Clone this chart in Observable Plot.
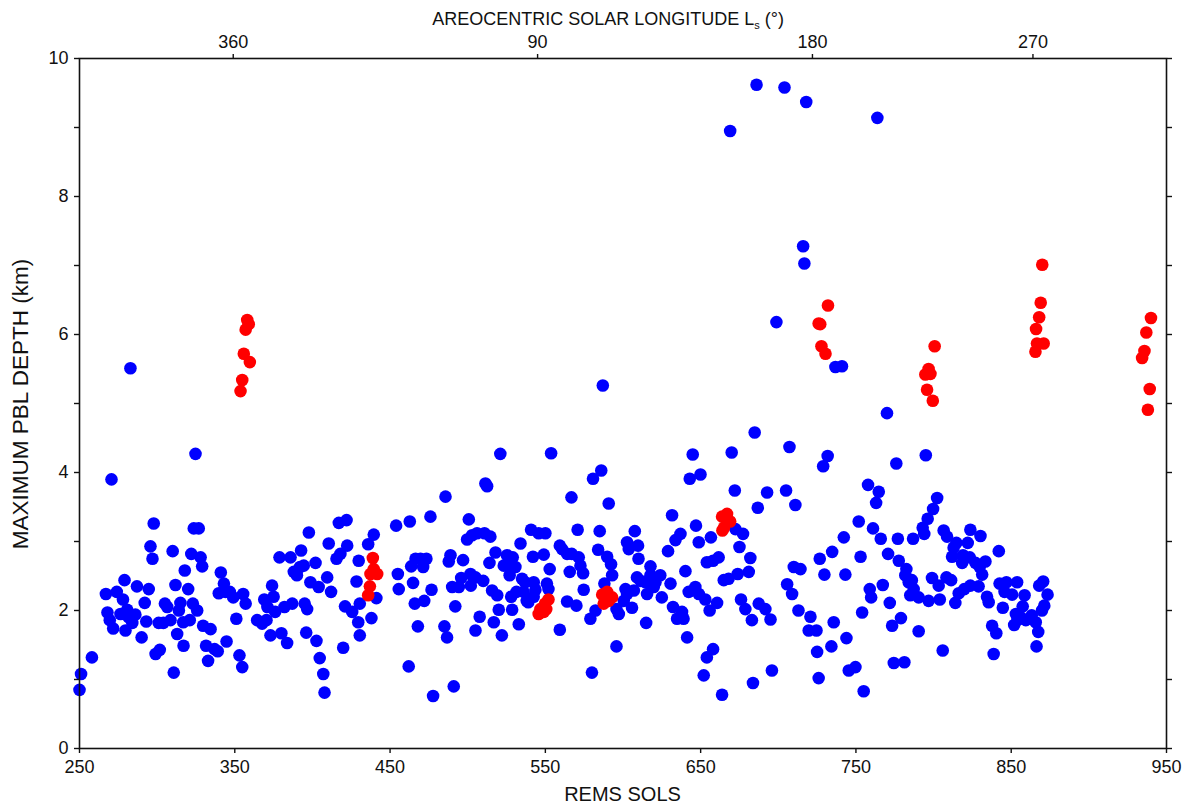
<!DOCTYPE html>
<html><head><meta charset="utf-8">
<script src="https://cdn.jsdelivr.net/npm/d3@7"></script>
<script src="https://cdn.jsdelivr.net/npm/@observablehq/plot@0.6"></script>
<style>html,body{margin:0;padding:0;background:#fff} #chart svg{display:block}</style>
</head><body><div id="chart"></div>
<script>
// ---- data ----
const blueSol = [250,251,258,270.6,267,268,269.5,271.7,274,278,279,276.4,280.7,281.7,279.6,284,286,287,290,292,293,294.6,297.8,295.7,297,299,301.7,301,304,305,306.5,308.6,310.7,310,311.8,312.9,314,315,316.8,317,317.8,320,321,322,323,323.6,326.8,324.7,325.8,328,329,329.6,331.5,332.8,334.4,337,339,341,343,339.7,344,344.7,346.8,349,351,353,354.8,355.4,357,364.4,367.6,369,370.4,371,373,374,375,376,378.8,380,382,383.7,385.9,387,388,390,392,392.7,394.4,395,396.6,396,397.7,398.7,402,402.6,404,404.7,407,407.8,409.5,410.5,412,415.5,417,418,419.8,421,422,422.4,425.6,428.4,429.5,430.5,430.5,429.8,
435.9,439.5,441.2,438,453.9,462.7,476,485.7,455,455.6,462,464.8,463.6,466.4,469.6,473.4,471.3,465.9,472,467.9,476.7,477.7,491,485,486.7,492,490,494.3,488.9,487.8,497,495.8,500.7,499.6,502.8,506,510.8,514.6,511.4,512.5,521,501.8,505,502,510,507.7,505,514,517.9,515.7,519,520,516.8,522,525.3,523.2,527.5,530.7,527,529,534,528,531.4,535,536,538,537,542.5,540.8,545.7,550,542,549,552.8,551,552,543.6,542.5,539,528.6,532.9,553.7,559.3,564,570,559.3,560.8,566.8,570.8,564,567,565.7,571.5,572.6,574.3,574.7,580,579,582.3,580.7,586,590.8,585,584,589.8,592.3,593,588,595.8,595.8,597.3,601.6,605.8,602.6,603.7,607.6,609.7,610,607,282.8,587,
600.5,602.6,614.9,617.7,609,611.3,614.5,617.7,620.9,624,615.5,619.8,625,630.6,629,631.6,633.8,637,632.2,634.8,638,639,641.3,640.2,642.3,646.6,648.8,653,655.8,660.6,647,648.8,644.9,643,649.9,656.6,654,658,661.6,658,654,652,663.8,664.9,668,672.4,677.3,675,672,670,682,681,673.9,676,678.8,683,687.4,691.7,695,683.7,695.9,686.8,692.8,705,707.2,711,705.7,708.9,710,714.3,713,720.7,719.6,724.6,725,726,735.7,734.2,743.9,745.4,749.7,755,726.7,729.7,734.7,742.2,743.2,728.9,731.8,751.8,753,754,758.9,759.8,757.8,764.7,763,761,766,767.3,771.8,770.7,773.3,779,774.4,781.2,776,777,777.6,782.5,781.8,786.8,784,786,785,787.2,790.4,
795,802.3,799.7,796.2,793,794,806.5,808.7,823.7,830.2,822,814.7,812.9,811.9,819,823.3,818.4,827,829.7,833.4,831.3,842,790.4,796.8,799,803.3,808.3,811.3,804,814,816.2,819.8,823.7,829,834.4,835.5,837.7,840.4,838.7,805.9,842.5,846.9,853.8,845.7,850.6,858.6,844.6,857.4,853,856.2,851.9,854,859.4,863.2,865.8,867.4,866.3,868,870.6,873.4,871.3,869.8,
686,704,718,669,763.8,716,716.8,698.8,736.8,741,770,684.8];
const blueDepth = [0.85,1.08,1.32,3.90,2.24,1.97,1.86,1.74,2.27,2.16,2.44,1.95,2.01,1.90,1.71,1.82,1.94,2.35,1.61,2.11,1.84,2.31,3.26,2.93,2.75,1.37,1.43,1.82,1.82,2.10,2.05,1.86,1.10,2.86,2.37,1.66,2.00,2.11,1.83,1.49,2.58,2.31,1.86,2.82,2.10,3.19,3.19,4.27,2.00,2.77,2.64,1.78,1.49,1.27,1.73,1.44,1.41,2.55,2.39,2.25,2.27,1.55,2.27,2.19,1.88,1.35,1.18,2.24,2.10,1.86,1.81,2.16,1.86,2.05,1.64,2.36,2.20,1.98,2.77,1.67,2.05,1.53,2.77,2.10,2.56,2.51,2.63,2.87,2.65,2.10,2.02,1.68,3.13,2.41,2.69,1.56,2.34,1.31,1.08,0.81,2.48,2.97,2.27,2.75,3.27,2.82,1.46,2.06,3.31,2.94,1.98,2.42,1.83,2.10,1.64,2.72,
2.96,3.10,2.18,1.89,3.23,3.29,3.36,3.65,2.53,2.31,1.19,2.40,2.64,2.75,2.75,2.75,2.63,2.10,2.14,1.77,2.30,0.76,0.90,1.77,1.61,2.06,2.34,2.34,2.80,2.71,2.73,2.47,3.32,3.03,3.09,3.12,3.12,3.07,3.84,3.80,4.27,2.53,2.48,2.36,2.43,1.91,1.71,2.69,2.84,2.29,2.22,2.01,1.83,1.64,2.80,2.65,2.65,2.63,2.51,2.77,2.97,2.20,2.27,2.46,2.27,2.14,2.41,2.41,3.17,3.12,3.12,2.78,2.81,2.60,2.39,2.31,2.30,2.20,2.12,2.01,1.80,4.28,1.72,2.13,2.07,2.94,2.89,3.64,3.17,2.82,2.82,2.56,2.77,2.65,2.54,2.30,1.10,1.88,2.00,3.91,4.03,3.55,3.15,2.88,2.78,2.67,2.51,2.39,1.48,2.02,1.95,2.31,2.04,2.99,2.89,3.15,2.94,2.75,2.29,5.51,5.26,
2.14,2.24,1.82,2.64,2.48,2.43,2.41,2.51,2.41,2.51,2.24,2.34,2.19,2.39,2.86,3.38,3.02,3.11,2.05,1.88,1.98,1.88,1.61,2.57,2.27,2.34,2.24,2.16,2.00,2.11,3.23,2.99,4.26,3.91,3.97,3.06,2.70,2.72,2.77,1.44,1.32,1.06,0.78,2.44,2.46,3.18,3.11,2.92,3.74,4.29,2.76,2.56,2.53,2.16,2.02,1.86,2.10,2.02,1.87,0.95,1.13,3.49,3.71,3.74,4.37,3.53,2.38,2.24,2.63,2.60,2.00,1.91,1.71,1.71,1.40,1.02,1.83,1.48,1.60,1.13,1.18,0.83,2.75,2.52,2.85,3.06,2.52,4.09,4.24,3.29,2.78,1.97,2.31,2.19,3.82,3.72,3.56,3.19,3.04,2.37,2.11,2.82,1.78,1.89,1.24,1.25,4.13,3.04,2.72,2.60,2.51,3.04,2.41,2.44,2.22,2.31,1.70,
4.25,3.63,3.47,3.33,3.20,3.11,3.16,3.07,3.17,3.08,2.98,2.98,2.91,2.78,2.80,2.77,2.69,2.69,2.63,2.71,2.52,2.86,2.19,2.14,2.47,2.36,2.48,2.44,2.16,2.11,2.25,2.31,2.36,2.35,2.20,2.12,1.78,1.67,1.37,1.42,2.39,2.41,2.41,2.27,2.23,2.22,2.04,2.06,1.95,1.90,1.79,1.86,1.86,1.93,1.83,1.69,1.48,2.36,2.42,2.23,2.07,2.00,
9.62,9.58,9.37,8.95,9.14,7.28,7.03,6.18,5.53,5.54,4.86,4.58];
const redSol = [358,359,357,355.8,359.7,354.8,353.7,
  438.9,439.5,441.7,437.4,437,435.9,
  552,549.8,546.8,549,545.7,550.6,
  586.6,589.8,593,587.6,590.8,
  663.8,667,669,665,664,
  732,726,727,727.8,730.4,
  800.7,796.8,794.7,798,795.8,799.5,
  870,869,868,866,866.6,870.9,865.6,
  940,937,935.8,934.3,939.2,938];
const redDepth = [6.21,6.15,6.07,5.72,5.60,5.34,5.18,
  2.76,2.60,2.53,2.53,2.35,2.22,
  2.16,2.10,2.02,1.98,1.95,2.02,
  2.23,2.27,2.19,2.10,2.14,
  3.36,3.40,3.29,3.20,3.16,
  6.42,6.16,6.15,5.83,5.72,
  5.83,5.50,5.42,5.43,5.20,5.04,
  7.01,6.46,6.25,6.08,5.87,5.87,5.75,
  6.24,6.03,5.76,5.66,5.21,4.91];
const solTicks = [250,350,450,550,650,750,850,950];
const depthTicks = [0,1,2,3,4,5,6,7,8,9,10];
const lsTickSols = [349,545,722,864];
const lsTickLabels = ["360","90","180","270"];
const xTitle = "REMS SOLS";
const yTitle = "MAXIMUM PBL DEPTH (km)";
const topTitle = ["AREOCENTRIC SOLAR LONGITUDE L", "s", " (°)"];

// ---- build tables ----
const blue = blueSol.map((s, i) => ({sol: s, depth: blueDepth[i]}));
const red = redSol.map((s, i) => ({sol: s, depth: redDepth[i]}));

const font = "'Liberation Sans', Arial, Helvetica, sans-serif";
const W = 1188, H = 806, mT = 58, mB = 58, mL = 79, mR = 22;

const chart = Plot.plot({
  width: W, height: H,
  marginTop: mT, marginBottom: mB, marginLeft: mL, marginRight: mR,
  style: {fontFamily: font, fontSize: "18px", color: "#111", background: "white"},
  x: {domain: [250, 950]},
  y: {domain: [0, 10]},
  marks: [
    Plot.dot(blue, {x: "sol", y: "depth", r: 6.3, fill: "#0000ff", stroke: "none"}),
    Plot.dot(red, {x: "sol", y: "depth", r: 6.3, fill: "#ff0000", stroke: "none"}),
    Plot.frame({stroke: "#111", strokeWidth: 1.6}),
    Plot.axisX(solTicks, {anchor: "bottom", tickSize: 5, tickPadding: 7, label: null, strokeWidth: 1.4, tickFormat: d => String(d)}),
    Plot.axisX(lsTickSols, {anchor: "top", tickSize: 5, tickPadding: 6, label: null, strokeWidth: 1.4, tickFormat: d => lsTickLabels[lsTickSols.indexOf(d)]}),
    Plot.axisY(depthTicks, {anchor: "left", tickSize: 5, tickPadding: 6, label: null, strokeWidth: 1.4, tickFormat: d => (d % 2 === 0 ? String(d) : "")}),
    Plot.axisY(depthTicks, {anchor: "right", tickSize: 5, label: null, strokeWidth: 1.4, tickFormat: () => ""})
  ]
});

document.getElementById("chart").appendChild(chart);

// ---- axis titles as real text ----
const svg = d3.select(chart);
const cx = mL + (W - mL - mR) / 2;
svg.append("text")
  .attr("x", cx).attr("y", H - 5)
  .attr("text-anchor", "middle")
  .attr("font-family", font).attr("font-size", 20).attr("fill", "#111")
  .text(xTitle);
svg.append("text")
  .attr("transform", `translate(28,${mT + (H - mT - mB) / 2 + 1}) rotate(-90)`)
  .attr("text-anchor", "middle")
  .attr("font-family", font).attr("font-size", 22.5).attr("fill", "#111")
  .text(yTitle);
const t = svg.append("text")
  .attr("x", 608).attr("y", 25)
  .attr("text-anchor", "middle")
  .attr("font-family", font).attr("font-size", 18).attr("fill", "#111");
t.append("tspan").text(topTitle[0]);
t.append("tspan").attr("font-size", 11).attr("dy", 4).text(topTitle[1]);
t.append("tspan").attr("dy", -4).text(topTitle[2]);
</script>
</body></html>
